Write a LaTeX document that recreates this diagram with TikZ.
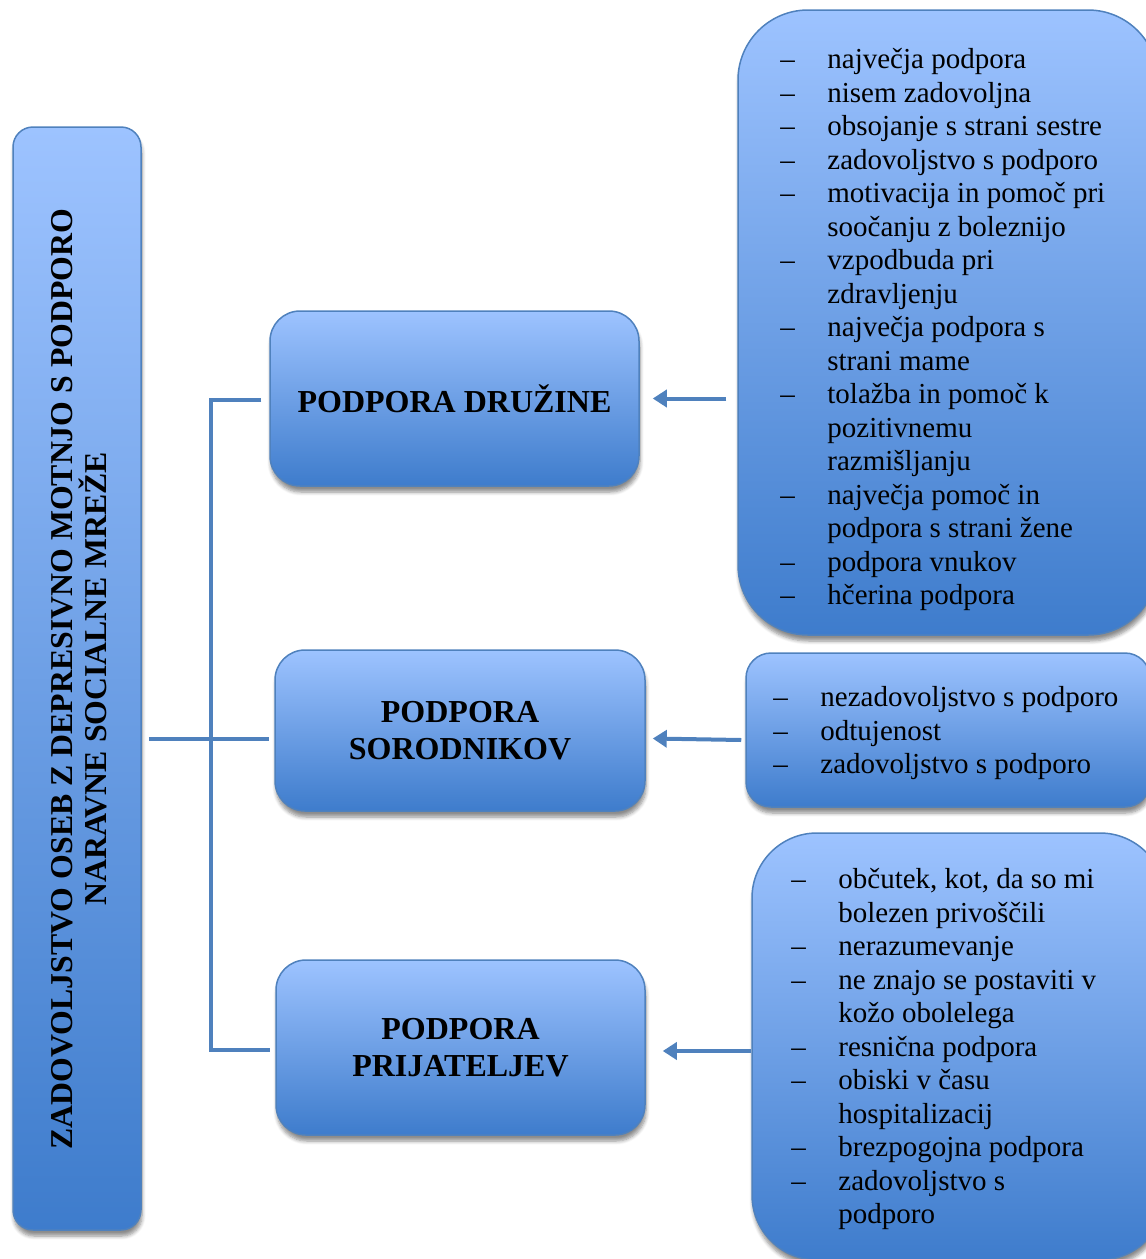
\documentclass[tikz,border=0pt]{standalone}
\usepackage{fontspec}
\setmainfont{Liberation Serif}
\usetikzlibrary{shadows.blur,arrows.meta,calc}
\definecolor{lineblue}{RGB}{79,129,189}
\definecolor{topblue}{RGB}{157,195,255}
\definecolor{botblue}{RGB}{62,124,204}
\newcommand\dd{\makebox[23.5pt][l]{–}}
\newcommand\ii{\hspace*{23.5pt}}
\begin{document}
\begin{tikzpicture}[x=0.5pt,y=-0.5pt,
  box/.style={draw=lineblue, line width=0.75pt, top color=topblue, bottom color=botblue,
    blur shadow={shadow xshift=0.5pt, shadow yshift=-3pt, shadow blur steps=6, shadow opacity=45},
    inner sep=0pt},
  conn/.style={draw=lineblue, line width=2pt},
  arr/.style={conn, -{Triangle[length=7pt,width=8.5pt]}},
  title/.style={font=\fontsize{16}{18.5}\selectfont\bfseries, align=center, text=black},
  listtext/.style={anchor=north west, inner sep=0pt, align=left, font=\fontsize{14.5}{16.75}\selectfont}]
\clip (0,0) rectangle (1146,1259);
% left box
\node[box, rounded corners=10pt, minimum width=64pt, minimum height=551.5pt] (L) at (77,678.5) {};
\node[rotate=90, font=\fontsize{15.9}{17}\selectfont\bfseries, align=center, inner sep=0pt] (Lt) at (79,679)
  {ZADOVOLJSTVO OSEB Z DEPRESIVNO MOTNJO S PODPORO\\NARAVNE SOCIALNE MREŽE};
% middle boxes
\node[box, title, rounded corners=15pt, minimum width=184.5pt, minimum height=87.5pt] (A) at (454.5,398.5) {PODPORA DRUŽINE};
\node[box, title, rounded corners=15pt, minimum width=185pt, minimum height=80.5pt] (B) at (460,730.5) {PODPORA\\SORODNIKOV};
\node[box, title, rounded corners=15pt, minimum width=184.5pt, minimum height=87.5pt] (C) at (460.5,1047.5) {PODPORA\\PRIJATELJEV};
% right boxes
\node[box, rounded corners=35pt, minimum width=210pt, minimum height=312.5pt] (R1) at (948,322.5) {};
\node[box, rounded corners=12.5pt, minimum width=202pt, minimum height=77pt] (R2) at (948,730) {};
\node[box, rounded corners=32.5pt, minimum width=206.5pt, minimum height=213.5pt] (R3) at (958.5,1046.5) {};
\node[listtext] (t1) at (780,48) {\dd največja podpora\\
\dd nisem zadovoljna\\
\dd obsojanje s strani sestre\\
\dd zadovoljstvo s podporo\\
\dd motivacija in pomoč pri\\
\ii soočanju z boleznijo\\
\dd vzpodbuda pri\\
\ii zdravljenju\\
\dd največja podpora s\\
\ii strani mame\\
\dd tolažba in pomoč k\\
\ii pozitivnemu\\
\ii razmišljanju\\
\dd največja pomoč in\\
\ii podpora s strani žene\\
\dd podpora vnukov\\
\dd hčerina podpora};
\node[listtext] (t2) at (773,686) {\dd nezadovoljstvo s podporo\\
\dd odtujenost\\
\dd zadovoljstvo s podporo};
\node[listtext] (t3) at (791,868) {\dd občutek, kot, da so mi\\
\ii bolezen privoščili\\
\dd nerazumevanje\\
\dd ne znajo se postaviti v\\
\ii kožo obolelega\\
\dd resnična podpora\\
\dd obiski v času\\
\ii hospitalizacij\\
\dd brezpogojna podpora\\
\dd zadovoljstvo s\\
\ii podporo};
% arrows
\draw[arr] ($(R1.west |- A.east)+(-11,0)$) -- ($(A.east)+(13,0)$);
\draw[arr] ($(R2.west)+(-4,10)$) -- ($(B.east)+(7,8)$);
\draw[arr] ($(R3.west)+(0,4.5)$) -- ($(C.east)+(17,3.5)$);
% left connectors
\coordinate (bus) at (211,0);
\draw[conn] ($(A.west)+(-8,1.5)$) -- ($(A.west -| bus)+(0,1.5)$) -- ($(C.west -| bus)+(0,2.5)$) -- ($(C.west)+(-5,2.5)$);
\draw[conn] ($(L.east |- B.west)+(7,8.5)$) -- ($(B.west)+(-5,8.5)$);
\end{tikzpicture}
\end{document}
